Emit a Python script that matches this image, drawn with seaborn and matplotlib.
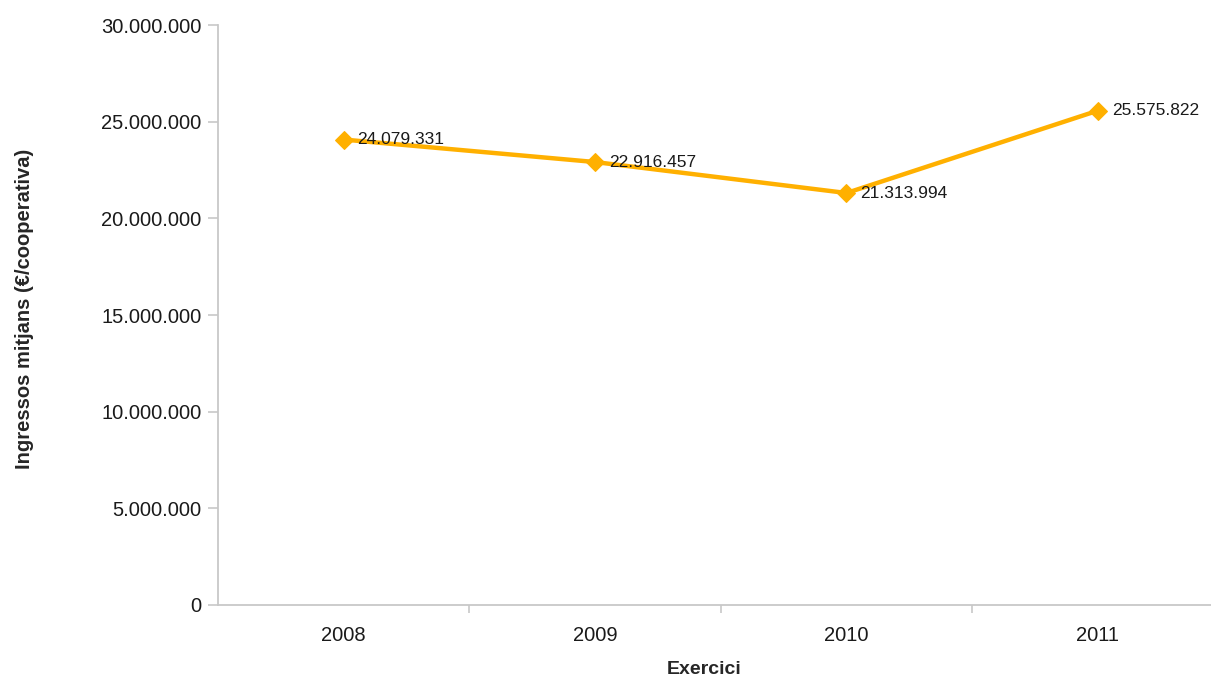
import numpy as np
import pandas as pd
import matplotlib
matplotlib.use("Agg")
import matplotlib.pyplot as plt
import seaborn as sns

anys = ["2008", "2009", "2010", "2011"]
ingressos = [24079331, 22916457, 21313994, 25575822]

def fmt(v):
    return f"{v:,.0f}".replace(",", ".")

sns.set_style("white")
plt.rcParams['font.family'] = ['Liberation Sans', 'DejaVu Sans']

df = pd.DataFrame({"Exercici": anys, "Ingressos": ingressos})

fig = plt.figure(figsize=(12.11, 6.79), dpi=100)
ax = fig.add_axes([0.18, 0.109, 0.82, 0.854])

color = "#FFB000"
sns.lineplot(data=df, x="Exercici", y="Ingressos", ax=ax, color=color,
             linewidth=3.2, marker="D", markersize=9, markeredgecolor=color,
             sort=False)

for i, v in enumerate(ingressos):
    ax.annotate(fmt(v), (i, v), xytext=(10, 0), textcoords="offset points",
                fontsize=12.5, color="#1a1a1a", va="center", ha="left")

ax.set_ylim(0, 30000000)
ax.set_yticks(np.arange(0, 30000001, 5000000))
ax.set_yticklabels([fmt(t) for t in np.arange(0, 30000001, 5000000)])
ax.set_xlim(-0.5, 3.45)
ax.set_xticks(range(len(anys)))
ax.set_xticks([0.5, 1.5, 2.5], minor=True)

for s in ["top", "right"]:
    ax.spines[s].set_visible(False)
for s in ["left", "bottom"]:
    ax.spines[s].set_color("#c8c8c8")
    ax.spines[s].set_linewidth(1.3)

ax.tick_params(axis="y", which="major", length=7, color="#c8c8c8", width=1.2,
               labelsize=14.5, labelcolor="#1a1a1a", direction="out", left=True, pad=5)
ax.tick_params(axis="x", which="major", length=0, labelsize=14.5,
               labelcolor="#1a1a1a", pad=15)
ax.tick_params(axis="x", which="minor", length=6, color="#c8c8c8", width=1.2,
               direction="out", bottom=True)

ax.set_xlabel("Exercici", fontsize=14, fontweight="bold")
ax.set_ylabel("Ingressos mitjans (€/cooperativa)", fontsize=14.5, fontweight="bold")
ax.xaxis.set_label_coords(0.49, -0.097)
ax.yaxis.set_label_coords(-0.185, 0.51)

fig.savefig("out.png", dpi=100)
